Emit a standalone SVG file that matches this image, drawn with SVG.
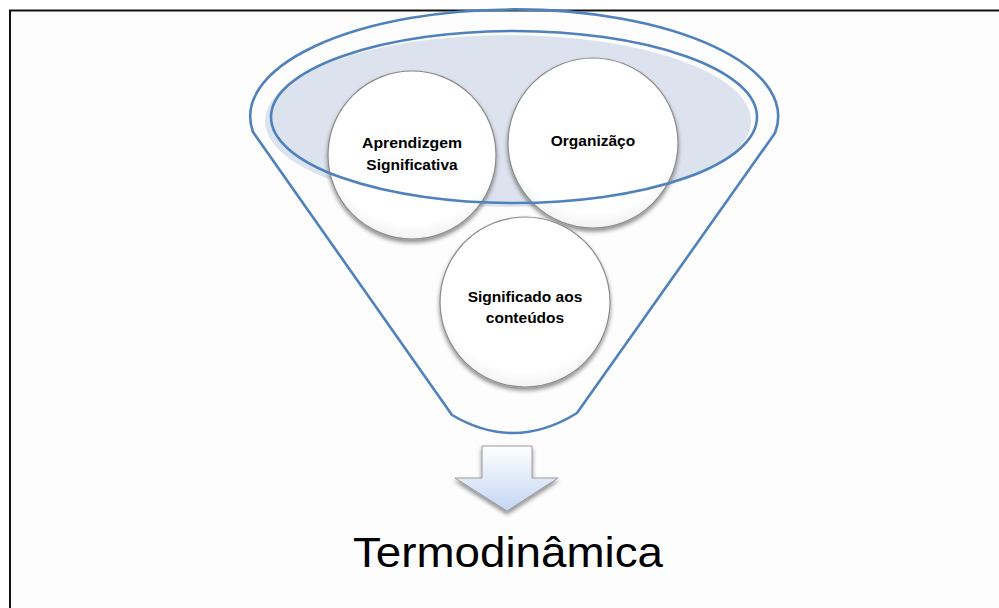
<svg xmlns="http://www.w3.org/2000/svg" width="999" height="608" viewBox="0 0 999 608">
<defs>
<style>
.funnel{fill:none;stroke:#4f81bd;stroke-width:2.6;stroke-linejoin:round}
.node circle{fill:url(#cg);stroke:#8a8a8a;stroke-width:1.2;filter:url(#sh)}
.lbl{font-family:"Liberation Sans",Arial,sans-serif;font-weight:bold;font-size:15.5px;fill:#000;text-anchor:middle}
</style>
<radialGradient id="cg" cx="0.5" cy="0.4" r="0.6">
<stop offset="0" stop-color="#ffffff"/>
<stop offset="0.85" stop-color="#ffffff"/>
<stop offset="1" stop-color="#f2f2f2"/>
</radialGradient>
<linearGradient id="ag" x1="0" y1="0" x2="0" y2="1">
<stop offset="0" stop-color="#ffffff"/>
<stop offset="1" stop-color="#c3d6f4"/>
</linearGradient>
<filter id="sh" x="-20%" y="-20%" width="140%" height="150%">
<feDropShadow dx="0" dy="3" stdDeviation="2.2" flood-color="#000" flood-opacity="0.45"/>
</filter>
</defs>
<rect x="0" y="0" width="999" height="608" fill="#ffffff"/>
<rect x="10" y="10.5" width="1000" height="620" fill="#fdfdfd" stroke="#111" stroke-width="2"/>
<g id="funnel">
<ellipse cx="508" cy="121" rx="243" ry="86" fill="#dde3ee"/>
<path class="funnel" d="M253,132 A264,107 0 1 1 775,133 L577,413 Q514.5,452 452,415 Z"/>
</g>
<g id="node-aprendizgem" class="node">
<circle cx="412" cy="155" r="84"/>
<text class="lbl" x="412" y="148" textLength="100" lengthAdjust="spacingAndGlyphs">Aprendizgem</text>
<text class="lbl" x="412" y="170">Significativa</text>
</g>
<g id="node-organizacao" class="node">
<circle cx="593" cy="143" r="85"/>
<text class="lbl" x="593" y="146">Organizãço</text>
</g>
<g id="node-significado" class="node">
<circle cx="525" cy="302" r="85"/>
<text class="lbl" x="525" y="302">Significado aos</text>
<text class="lbl" x="525" y="323">conteúdos</text>
</g>
<g id="funnel-rim">
<ellipse class="funnel" cx="514" cy="117" rx="243" ry="86"/>
</g>
<g id="connectors">
<polygon points="482,446 532,446 532,478 558,478 507,511 455,478 482,478" fill="url(#ag)" stroke="#9a9a9a" stroke-width="1" filter="url(#sh)"/>
</g>
<g id="node-termodinamica">
<text x="508" y="567" font-family="'Liberation Sans',Arial,sans-serif" font-size="42" text-anchor="middle" textLength="310" lengthAdjust="spacingAndGlyphs" fill="#000">Termodinâmica</text>
</g>
</svg>
